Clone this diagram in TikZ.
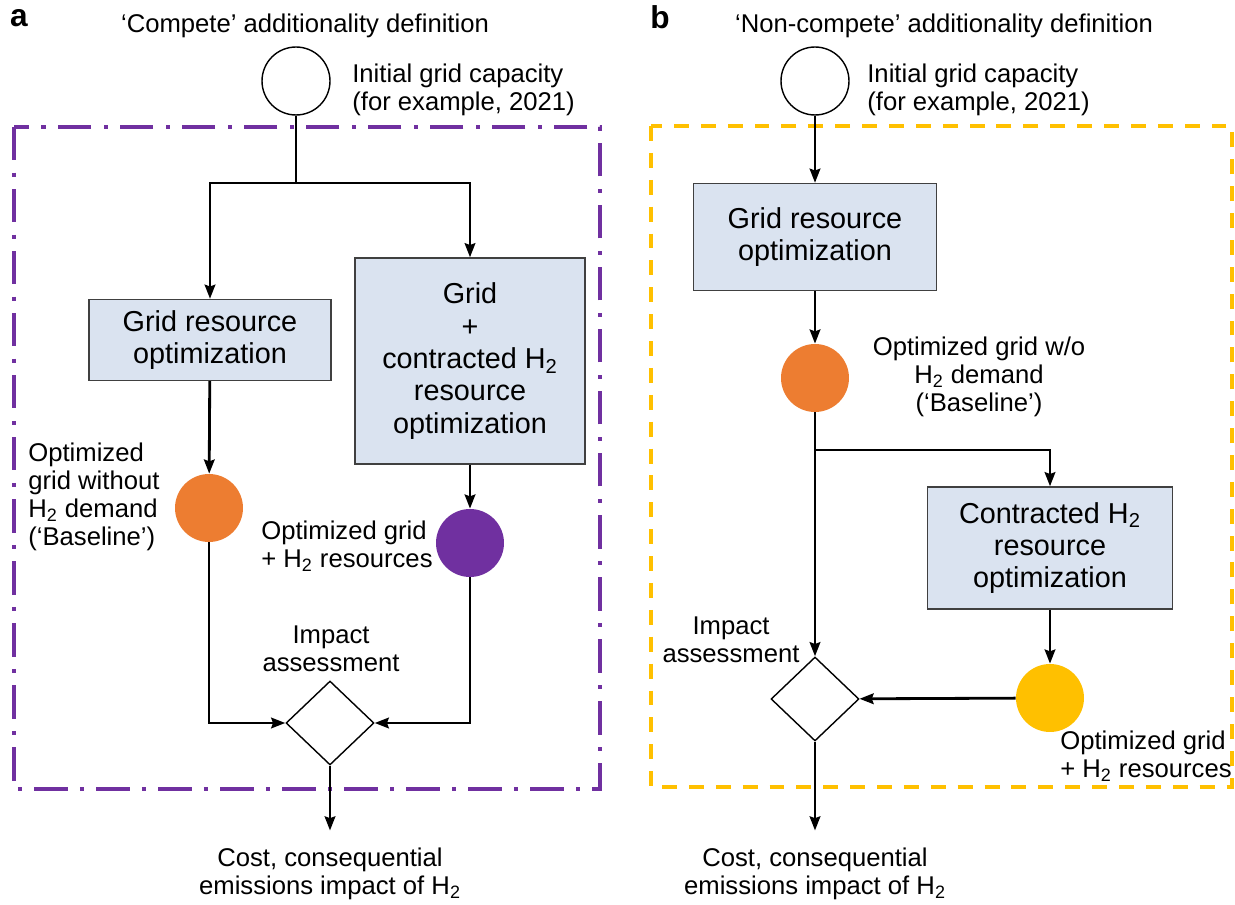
\documentclass[tikz,border=0pt]{standalone}
\usepackage{fontspec}
\setmainfont{Liberation Sans}
\usetikzlibrary{shapes.geometric,arrows.meta}
\definecolor{boxblue}{RGB}{218,227,240}
\definecolor{boxedge}{RGB}{64,64,64}
\definecolor{gridorange}{RGB}{237,125,49}
\definecolor{gridpurple}{RGB}{112,48,160}
\definecolor{gridyellow}{RGB}{255,192,0}
\begin{document}
\begin{tikzpicture}[x=0.02cm, y=-0.02cm]
  % styles for boxes, circles, labels and the flow lines
  \tikzstyle{optbox}=[draw=boxedge, fill=boxblue, line width=0.8pt, align=center, font=\fontsize{16.4}{18.4}\selectfont]
  \tikzstyle{gridstate}=[circle, minimum size=1.36cm, inner sep=0pt]
  \tikzstyle{check}=[diamond, draw, line width=0.8pt, minimum width=1.76cm, minimum height=1.68cm, inner sep=0pt]
  \tikzstyle{lbl}=[font=\fontsize{14.6}{15.9}\selectfont, inner sep=0pt]
  \tikzstyle{panel}=[font=\fontsize{18}{20}\selectfont\bfseries]
  \tikzstyle{link}=[line width=1.6pt]
  \tikzstyle{flow}=[line width=1.6pt, -{Stealth[length=8pt,width=6pt,inset=1pt]}]

  \useasboundingbox (0,0) rectangle (1235,905);

  % the two frames
  \draw[gridpurple, line width=2.2pt, dash pattern=on 19pt off 7pt on 2.3pt off 7pt] (14,127) rectangle (600,789);
  \draw[gridyellow, line width=2.2pt, dash pattern=on 8.5pt off 6.8pt] (651,126) rectangle (1232,787);

  % Panel a
  \node[panel] (alabel) at (19,18) {a};
  \node[lbl] (atitle) at (305,26) {‘Compete’ additionality definition};
  \node[gridstate, draw, line width=0.8pt] (ainit) at (296,81) {};
  \node[lbl, align=left, anchor=west] (ainitlbl) at (352,90) {Initial grid capacity\\(for example, 2021)};
  \node[optbox, minimum width=4.84cm, minimum height=1.62cm] (agrid) at (210,340) {Grid resource\\optimization};
  \node[optbox, minimum width=4.6cm, minimum height=4.12cm] (ajoint) at (470,361) {Grid\\+\\contracted H\textsubscript{2}\\resource\\optimization};
  \node[gridstate, fill=gridorange] (abase) at (209,508) {};
  \node[lbl, align=left, anchor=west] (abaselbl) at (28,497) {Optimized\\grid without\\H\textsubscript{2} demand\\(‘Baseline’)};
  \node[gridstate, fill=gridpurple] (aopt) at (470,543) {};
  \node[lbl, align=left, anchor=west] (aoptlbl) at (261,546) {Optimized grid\\+ H\textsubscript{2} resources};
  \node[check] (aimpact) at (330,723) {};
  \node[lbl, align=center] (aimpactlbl) at (331,649) {Impact\\assessment};
  \node[lbl, align=center, outer sep=10pt] (acost) at (330,874) {Cost, consequential\\emissions impact of H\textsubscript{2}};

  % connectors a
  \coordinate (asplit) at (296,183);
  \draw[link] (ainit) -- (asplit);
  \draw[flow] (asplit) -| (agrid.north);
  \draw[flow] (asplit) -| (ajoint.north);
  \draw[flow] (agrid) -- (abase);
  \draw[flow] (ajoint) -- (aopt);
  \draw[flow] (abase.south) |- (aimpact.west);
  \draw[flow] (aopt.south) |- (aimpact.east);
  \draw[flow] (aimpact.south) -- (acost.north);

  % Panel b
  \node[panel] (blabel) at (660,17) {b};
  \node[lbl] (btitle) at (944,26) {‘Non-compete’ additionality definition};
  \node[gridstate, draw, line width=0.8pt] (binit) at (815,81) {};
  \node[lbl, align=left, anchor=west] (binitlbl) at (867,90) {Initial grid capacity\\(for example, 2021)};
  \node[optbox, minimum width=4.86cm, minimum height=2.14cm] (bgrid) at (815,237) {Grid resource\\optimization};
  \node[gridstate, fill=gridorange] (bbase) at (815,378) {};
  \node[lbl, align=center] (bbaselbl) at (979,377) {Optimized grid w/o\\H\textsubscript{2} demand\\(‘Baseline’)};
  \node[optbox, minimum width=4.9cm, minimum height=2.44cm] (bcontract) at (1050,548) {Contracted H\textsubscript{2}\\resource\\optimization};
  \node[gridstate, fill=gridyellow] (bopt) at (1050,698) {};
  \node[lbl, align=left, anchor=west] (boptlbl) at (1060,756) {Optimized grid\\+ H\textsubscript{2} resources};
  \node[check] (bimpact) at (815,699) {};
  \node[lbl, align=center] (bimpactlbl) at (731,640) {Impact\\assessment};
  \node[lbl, align=center, outer sep=10pt] (bcost) at (815,874) {Cost, consequential\\emissions impact of H\textsubscript{2}};

  % connectors b
  \coordinate (bsplit) at (815,450);
  \draw[flow] (binit) -- (bgrid);
  \draw[flow] (bgrid) -- (bbase);
  \draw[flow] (bbase) -- (bimpact);
  \draw[flow] (bsplit) -| (bcontract.north);
  \draw[flow] (bcontract) -- (bopt);
  \draw[flow] (bopt) -- (bimpact);
  \draw[flow] (bimpact.south) -- (bcost.north);
\end{tikzpicture}
\end{document}
